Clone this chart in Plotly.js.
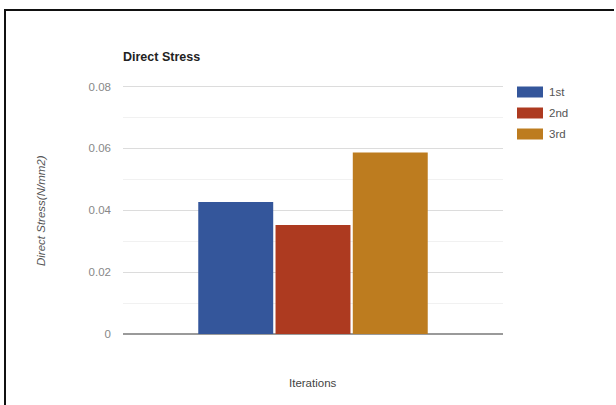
<!DOCTYPE html>
<html>
<head>
<meta charset="utf-8">
<script src="https://cdn.plot.ly/plotly-3.0.1.min.js"></script>
<style>
  html, body { margin: 0; padding: 0; background: #fff; overflow: hidden; }
  #chart { width: 616px; height: 405px; }
</style>
</head>
<body>
<div id="chart"></div>
<script>
// Direct stress per iteration, in N/mm2
const category = ['Iterations'];
const seriesNames = ['1st', '2nd', '3rd'];
const seriesValues = [0.0427, 0.0352, 0.0587];
const seriesColors = ['#34569b', '#ad3a20', '#bd7c1f'];
const yTicks = [0, 0.02, 0.04, 0.06, 0.08];
const yMax = 0.0805;

const W = 616, H = 405;
const M = { l: 123, r: 113, t: 85, b: 71 };
const plotW = W - M.l - M.r, plotH = H - M.t - M.b;
// page pixel -> paper fraction helpers for decorations outside the axes
const px = x => (x - M.l) / plotW;
const py = y => (H - M.b - y) / plotH;

const traces = seriesNames.map((name, i) => ({
  type: 'bar',
  name: name,
  x: category,
  y: [seriesValues[i]],
  marker: { color: seriesColors[i] },
  hoverinfo: 'name+y'
}));

const shapes = [];
const annotations = [];

// outer frame: left and top rules
shapes.push({ type: 'line', xref: 'paper', yref: 'paper',
  x0: px(5), x1: px(5), y0: py(10), y1: py(H), line: { color: '#111', width: 2 } });
shapes.push({ type: 'line', xref: 'paper', yref: 'paper',
  x0: px(4), x1: px(W - 2), y0: py(10), y1: py(10), line: { color: '#111', width: 2 } });

// legend: wide swatches with labels to the right
seriesNames.forEach((name, i) => {
  const yc = 92 + i * 21;
  shapes.push({
    type: 'rect', xref: 'paper', yref: 'paper',
    x0: px(517), x1: px(543), y0: py(yc + 5.5), y1: py(yc - 5.5),
    fillcolor: seriesColors[i], line: { width: 0 }
  });
  annotations.push({
    xref: 'paper', yref: 'paper', x: px(547), y: py(yc),
    xanchor: 'left', yanchor: 'middle', showarrow: false,
    text: name, font: { size: 11.5, color: '#555' }
  });
});

// axis titles
annotations.push({
  xref: 'paper', yref: 'paper', x: 0.5, y: py(383),
  xanchor: 'center', yanchor: 'middle', showarrow: false,
  text: category[0], font: { size: 11.5, color: '#444' }
});
annotations.push({
  xref: 'paper', yref: 'paper', x: px(41), y: py(211),
  xanchor: 'center', yanchor: 'middle', showarrow: false, textangle: -90,
  text: '<i>Direct Stress(N/mm2)</i>', font: { size: 11.5, color: '#555' }
});

const layout = {
  width: W, height: H,
  margin: M,
  paper_bgcolor: '#fff', plot_bgcolor: '#fff',
  font: { family: 'Liberation Sans, Arial, sans-serif', color: '#777' },
  title: {
    text: '<b>Direct Stress</b>',
    font: { size: 12.5, color: '#222' },
    xref: 'paper', x: 0, xanchor: 'left',
    yref: 'container', y: 1 - 57 / H, yanchor: 'middle'
  },
  showlegend: false,
  barmode: 'group',
  bargap: 0.39,
  bargroupgap: 0.03,
  xaxis: {
    showticklabels: false, showgrid: false, zeroline: false,
    showline: false, ticks: '', fixedrange: true
  },
  yaxis: {
    range: [0, yMax], tickvals: yTicks,
    ticktext: yTicks.map(v => v === 0 ? '0' : v.toFixed(2)),
    tickfont: { size: 11.5, color: '#888' },
    ticks: '', ticklabelstandoff: 11,
    showgrid: true, gridcolor: '#dcdcdc', gridwidth: 1,
    minor: { tickvals: [0.01, 0.03, 0.05, 0.07], showgrid: true, gridcolor: '#f1f1f1', gridwidth: 1 },
    zeroline: true, zerolinecolor: '#9a9a9a', zerolinewidth: 1.5,
    showline: false, fixedrange: true
  },
  shapes: shapes,
  annotations: annotations
};

Plotly.newPlot('chart', traces, layout, { displayModeBar: false, staticPlot: true });
</script>
</body>
</html>
